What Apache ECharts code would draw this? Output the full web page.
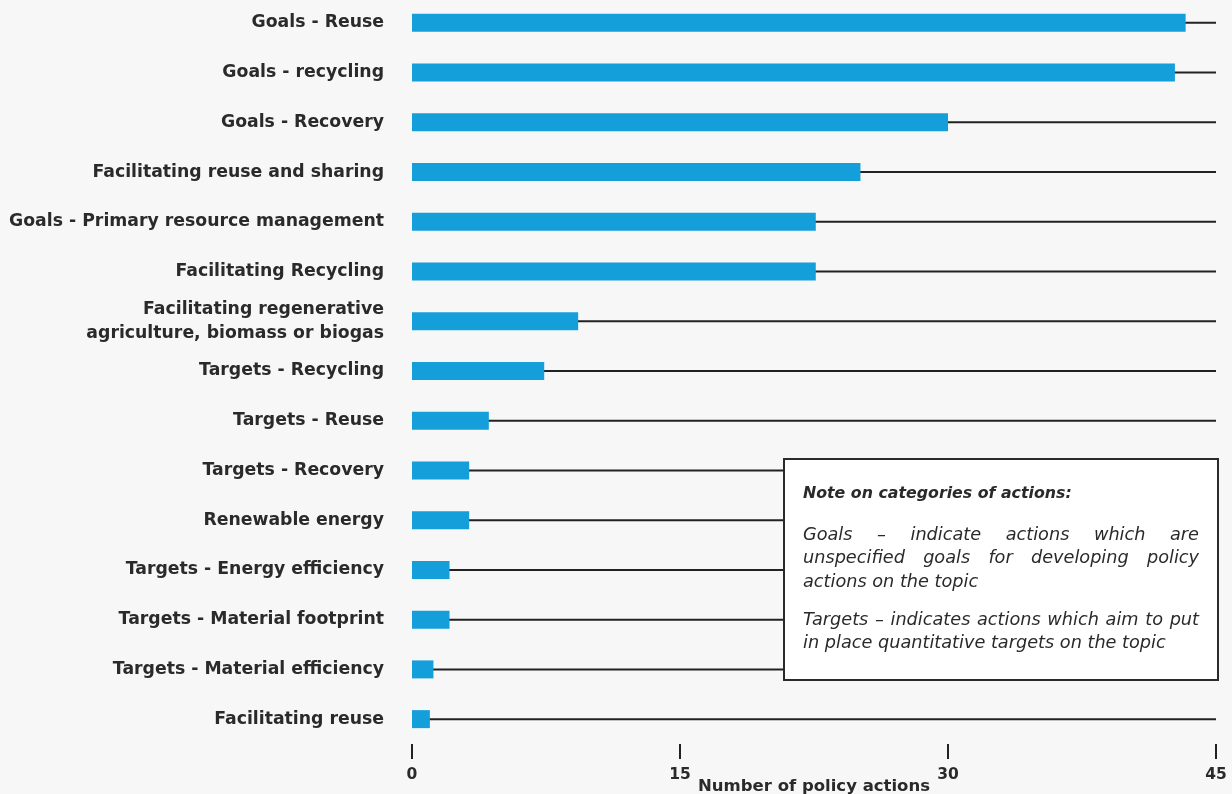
<!DOCTYPE html>
<html>
<head>
<meta charset="utf-8">
<script src="https://cdn.jsdelivr.net/npm/echarts@6/dist/echarts.min.js"></script>
<style>
  html, body { margin: 0; padding: 0; background: #f7f7f7; }
  #chart { width: 1232px; height: 794px; }
</style>
</head>
<body>
<div id="chart"></div>
<script>
// Policy action categories, listed top to bottom
const categories = [
  'Goals - Reuse',
  'Goals - recycling',
  'Goals - Recovery',
  'Facilitating reuse and sharing',
  'Goals - Primary resource management',
  'Facilitating Recycling',
  'Facilitating regenerative\nagriculture, biomass or biogas',
  'Targets - Recycling',
  'Targets - Reuse',
  'Targets - Recovery',
  'Renewable energy',
  'Targets - Energy efficiency',
  'Targets - Material footprint',
  'Targets - Material efficiency',
  'Facilitating reuse'
];

// Number of policy actions per category
const values = [43.3, 42.7, 30, 25.1, 22.6, 22.6, 9.3, 7.4, 4.3, 3.2, 3.2, 2.1, 2.1, 1.2, 1.0];

// Axis range and tick step
const axisMin = 0;
const axisMax = 45;
const axisStep = 15;

// Explanatory note
const noteTitle = 'Note on categories of actions:';
const noteParagraphs = [
  { justified: ['Goals – indicate actions which are', 'unspecified goals for developing policy'], last: 'actions on the topic' },
  { justified: ['Targets – indicates actions which aim to put'], last: 'in place quantitative targets on the topic' }
];

const FONT = '"DejaVu Sans", sans-serif';
const TEXT = '#2a2a2a';
const BAR = '#149fda';

const chart = echarts.init(document.getElementById('chart'), null, { renderer: 'canvas' });

// Note box geometry
const box = { x: 784, y: 459, w: 434, h: 221, pad: 19 };
const noteFont = 'italic 400 17.7px "DejaVu Sans", sans-serif';
const measureCtx = document.createElement('canvas').getContext('2d');
measureCtx.font = noteFont;

function textEl(str, x, y, font) {
  return { type: 'text', z: 20,
    style: { x: x, y: y, text: str, font: font, fill: TEXT, verticalAlign: 'middle', align: 'left' } };
}

// spread words so the line fills the inner width of the box
function justifiedLine(line, y) {
  const words = line.split(' ');
  const widths = words.map(w => measureCtx.measureText(w).width);
  const inner = box.w - 2 * box.pad;
  const gap = (inner - widths.reduce((a, b) => a + b, 0)) / (words.length - 1);
  let x = box.x + box.pad;
  return words.map((w, i) => {
    const el = textEl(w, x, y, noteFont);
    x += widths[i] + gap;
    return el;
  });
}

function buildNote() {
  const els = [{
    type: 'rect', z: 10,
    shape: { x: box.x, y: box.y, width: box.w, height: box.h },
    style: { fill: '#ffffff', stroke: '#2a2a2a', lineWidth: 2 }
  }, textEl(noteTitle, box.x + box.pad, 494, 'italic 700 15.8px "DejaVu Sans", sans-serif')];
  let y = 535;
  const lh = 23.5;
  noteParagraphs.forEach(p => {
    p.justified.forEach(l => { els.push(...justifiedLine(l, y)); y += lh; });
    els.push(textEl(p.last, box.x + box.pad, y, noteFont));
    y += lh + 14.5;
  });
  return els;
}

chart.setOption({
  backgroundColor: '#f7f7f7',
  animation: false,
  grid: { left: 412, right: 16, top: -2, bottom: 50, outerBoundsMode: 'none', containLabel: false },
  xAxis: {
    type: 'value', min: axisMin, max: axisMax, interval: axisStep,
    name: 'Number of policy actions', nameLocation: 'middle', nameGap: 34, nameMoveOverlap: false,
    nameTextStyle: { fontFamily: FONT, fontWeight: 'bold', fontSize: 16.5, color: TEXT },
    axisLine: { show: false },
    axisTick: { show: true, length: 15, lineStyle: { color: '#222', width: 2 } },
    splitLine: { show: false },
    axisLabel: { margin: 23, fontFamily: FONT, fontWeight: 'bold', fontSize: 15.5, color: TEXT }
  },
  yAxis: {
    type: 'category', data: categories, inverse: true,
    axisLine: { show: false }, axisTick: { show: false },
    axisLabel: { margin: 28, fontFamily: FONT, fontWeight: 'bold', fontSize: 17.3, color: TEXT, lineHeight: 24, align: 'right' }
  },
  series: [
    {
      // thin track running across the full axis behind each bar
      type: 'custom', z: 1, silent: true,
      data: categories.map((c, i) => [axisMin, i]),
      encode: { x: 0, y: 1 },
      renderItem: function (params, api) {
        const idx = api.value(1);
        const a = api.coord([axisMin, idx]);
        const b = api.coord([axisMax, idx]);
        return { type: 'line', shape: { x1: a[0], y1: a[1], x2: b[0], y2: b[1] },
          style: { stroke: '#222', lineWidth: 2 } };
      }
    },
    {
      type: 'bar', z: 3, data: values, barWidth: 18,
      itemStyle: { color: BAR }
    }
  ],
  graphic: buildNote()
});
</script>
</body>
</html>
